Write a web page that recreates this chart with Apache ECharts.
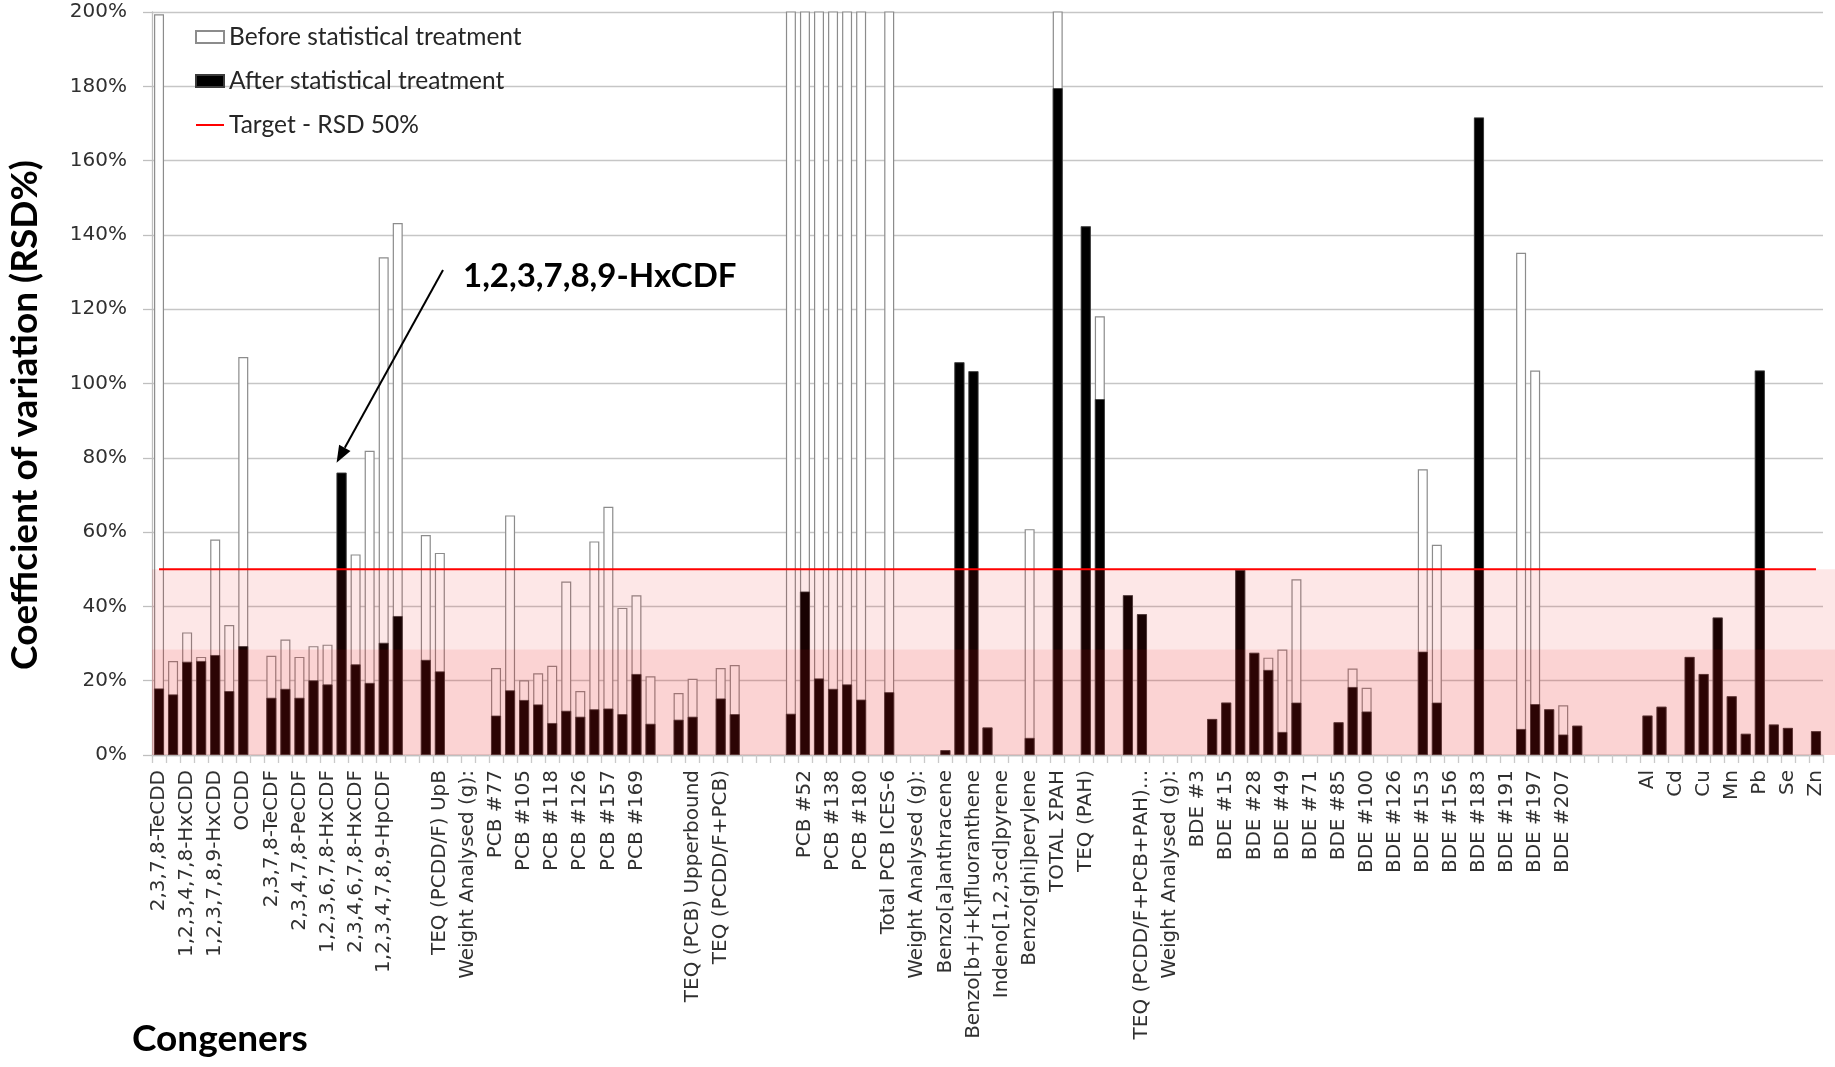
<!DOCTYPE html>
<html>
<head>
<meta charset="utf-8">
<title>Coefficient of variation before and after statistical treatment</title>
<script src="https://cdn.jsdelivr.net/npm/echarts@6/dist/echarts.min.js"></script>
<style>
  html, body { margin: 0; padding: 0; background: #ffffff; }
  #chart { width: 1835px; height: 1067px; }
</style>
</head>
<body>
<div id="chart"></div>
<script>
// Analytes in plotting order; empty strings are spacer slots between groups.
const congeners = [
  '2,3,7,8-TeCDD', '1,2,3,7,8-PeCDD', '1,2,3,4,7,8-HxCDD', '1,2,3,6,7,8-HxCDD',
  '1,2,3,7,8,9-HxCDD', '1,2,3,4,6,7,8-HpCDD', 'OCDD', '',
  '2,3,7,8-TeCDF', '1,2,3,7,8-PeCDF', '2,3,4,7,8-PeCDF', '1,2,3,4,7,8-HxCDF',
  '1,2,3,6,7,8-HxCDF', '1,2,3,7,8,9-HxCDF', '2,3,4,6,7,8-HxCDF', '1,2,3,4,6,7,8-HpCDF',
  '1,2,3,4,7,8,9-HpCDF', 'OCDF', '', 'TEQ (PCDD/F) LoB',
  'TEQ (PCDD/F) UpB', '', 'Weight Analysed (g):', '',
  'PCB #77', 'PCB #81', 'PCB #105', 'PCB #114',
  'PCB #118', 'PCB #123', 'PCB #126', 'PCB #156',
  'PCB #157', 'PCB #167', 'PCB #169', 'PCB #189',
  '', 'TEQ (PCB) Lowerbound', 'TEQ (PCB) Upperbound', '',
  'TEQ (PCDD/F+PCB)', 'TEQ (PCDD/F+PCB) UpB', '', '',
  '', 'PCB #28', 'PCB #52', 'PCB #101',
  'PCB #138', 'PCB #153', 'PCB #180', '',
  'Total PCB ICES-6', '', 'Weight Analysed (g):', '',
  'Benzo[a]anthracene', 'Chrysene', 'Benzo[b+j+k]fluoranthene', 'Benzo[a]pyrene',
  'Indeno[1,2,3cd]pyrene', 'Dibenz[a,h]anthracene', 'Benzo[ghi]perylene', '',
  'TOTAL ΣPAH', '', 'TEQ (PAH)', 'TEQ (PAH) UpB',
  '', 'TEQ (PCDD/F+PCB+PAH) LoB', 'TEQ (PCDD/F+PCB+PAH)...', '',
  'Weight Analysed (g):', '', 'BDE #3', 'BDE #7',
  'BDE #15', 'BDE #17', 'BDE #28', 'BDE #47',
  'BDE #49', 'BDE #66', 'BDE #71', 'BDE #77',
  'BDE #85', 'BDE #99', 'BDE #100', 'BDE #119',
  'BDE #126', 'BDE #138', 'BDE #153', 'BDE #154',
  'BDE #156', 'BDE #175', 'BDE #183', 'BDE #184',
  'BDE #191', 'BDE #196', 'BDE #197', 'BDE #206',
  'BDE #207', 'BDE #209', '', '',
  '', '', 'Al', 'As',
  'Cd', 'Cr', 'Cu', 'Hg',
  'Mn', 'Ni', 'Pb', 'Sb',
  'Se', 'Sn', 'Zn'
];

// RSD (%) before statistical treatment (values above 200 run off the axis).
const beforeRSD = [
  199.4, 25.3, 33.0, 26.4, 58.0, 35.0, 107.1, null,
  26.7, 31.1, 26.4, 29.3, 29.7, 76.0, 54.0, 81.9,
  134.0, 143.2, null, 59.2, 54.4, null, null, null,
  23.4, 64.5, 20.1, 22.0, 24.0, 46.7, 17.2, 57.5,
  66.8, 39.6, 43.0, 21.2, null, 16.7, 20.5, null,
  23.4, 24.2, null, null, null, 260, 260, 260,
  260, 260, 260, null, 260, null, null, null,
  1.3, 105.7, 103.3, 7.4, null, null, 60.8, null,
  240, null, 142.3, 118.1, null, 43.0, 37.9, null,
  null, null, null, 9.7, 14.1, 49.8, 27.5, 26.2,
  28.4, 47.3, null, null, 8.8, 23.3, 18.1, null,
  null, null, 76.9, 56.6, null, null, 171.6, null,
  null, 135.2, 103.5, 12.3, 13.4, 7.9, null, null,
  null, null, 10.6, 13.0, null, 26.4, 21.8, 37.0,
  15.8, 5.7, 103.5, 8.2, 7.3, null, 6.4
];

// RSD (%) after statistical treatment.
const afterRSD = [
  17.9, 16.3, 25.1, 25.3, 26.9, 17.2, 29.3, null,
  15.4, 17.8, 15.4, 20.1, 19.0, 76.0, 24.4, 19.4,
  30.2, 37.4, null, 25.6, 22.5, null, null, null,
  10.6, 17.4, 14.8, 13.6, 8.6, 11.9, 10.3, 12.3,
  12.5, 11.0, 21.8, 8.4, null, 9.5, 10.3, null,
  15.2, 11.0, null, null, null, 11.1, 44.0, 20.6,
  17.8, 19.0, 14.9, null, 16.9, null, null, null,
  1.3, 105.7, 103.3, 7.4, null, null, 4.6, null,
  179.5, null, 142.3, 95.8, null, 43.0, 37.9, null,
  null, null, null, 9.7, 14.1, 49.8, 27.5, 22.9,
  6.2, 14.1, null, null, 8.8, 18.3, 11.7, null,
  null, null, 27.8, 14.1, null, null, 171.6, null,
  null, 7.0, 13.7, 12.3, 5.5, 7.9, null, null,
  null, null, 10.6, 13.0, null, 26.4, 21.8, 37.0,
  15.8, 5.7, 103.5, 8.2, 7.3, null, 6.4
];

// Target RSD and the shaded acceptance bands (in % RSD).
const targetRSD = 50;
const bandEdges = [0, 28.4, 50];
const yAxisMin = 0;
const yAxisMax = 200;
const yAxisStep = 20;
const annotatedCongener = '1,2,3,7,8,9-HxCDF';

const legendNames = ['Before statistical treatment', 'After statistical treatment', 'Target - RSD 50%'];

const chart = echarts.init(document.getElementById('chart'), null, { renderer: 'canvas' });

const option = {
  animation: false,
  backgroundColor: '#ffffff',
  grid: { left: 152, right: 12, top: 12, bottom: 312, containLabel: false },
  legend: {
    orient: 'vertical',
    left: 190,
    top: 19,
    itemWidth: 28,
    itemHeight: 12,
    itemGap: 18,
    selectedMode: false,
    textStyle: { fontFamily: 'Lato', fontSize: 24.5, color: '#262626', lineHeight: 26 },
    data: [
      { name: legendNames[0], icon: 'rect' },
      { name: legendNames[1], icon: 'rect' },
      { name: legendNames[2], itemStyle: { opacity: 0 } }
    ]
  },
  xAxis: {
    type: 'category',
    data: congeners,
    boundaryGap: true,
    axisLine: { lineStyle: { color: '#bfbfbf', width: 1.3 } },
    axisTick: { show: true, interval: 0, length: 8, lineStyle: { color: '#cacaca', width: 1.3 } },
    axisLabel: {
      interval: 1,
      rotate: 90,
      margin: 15,
      fontFamily: 'DejaVu Sans',
      fontSize: 20,
      color: '#303030'
    },
    splitLine: { show: false }
  },
  yAxis: {
    type: 'value',
    min: yAxisMin,
    max: yAxisMax,
    interval: yAxisStep,
    axisLine: { show: true, lineStyle: { color: '#bfbfbf', width: 1.3 } },
    axisTick: { show: true, length: 9, lineStyle: { color: '#bfbfbf', width: 1.3 } },
    axisLabel: {
      formatter: '{value}%',
      margin: 25,
      fontFamily: 'DejaVu Sans',
      fontSize: 20,
      color: '#303030'
    },
    splitLine: { lineStyle: { color: '#c6c6c6', width: 1.3 } }
  },
  series: [
    {
      name: legendNames[0],
      type: 'bar',
      data: beforeRSD,
      barWidth: 10,
      barGap: '-100%',
      itemStyle: { color: '#ffffff', borderColor: '#8c8c8c', borderWidth: 1.2 },
      z: 2
    },
    {
      name: legendNames[1],
      type: 'bar',
      data: afterRSD,
      barWidth: 10,
      barGap: '-100%',
      itemStyle: { color: '#000000', borderColor: '#3c3c3c', borderWidth: 0.8 },
      z: 3
    },
    {
      name: legendNames[2],
      type: 'line',
      data: [[0, targetRSD], [congeners.length - 1, targetRSD]],
      symbol: 'none',
      lineStyle: { color: '#ff0000', width: 2.2 },
      itemStyle: { color: '#ff0000' },
      z: 20
    }
  ]
};

chart.setOption(option);

// Overlays positioned through the axes: shaded bands, annotation arrow and titles.
function drawOverlays() {
  const yPx = v => chart.convertToPixel({ yAxisIndex: 0 }, v);
  const width = chart.getWidth();
  const plotLeft = option.grid.left;
  const bandFills = ['rgba(236, 22, 22, 0.19)', 'rgba(236, 22, 22, 0.10)'];

  const elements = [];
  for (let i = 0; i < bandEdges.length - 1; i++) {
    const yTop = yPx(bandEdges[i + 1]);
    const yBottom = yPx(bandEdges[i]);
    elements.push({
      type: 'rect',
      z: 10,
      silent: true,
      shape: { x: plotLeft, y: yTop, width: width - plotLeft, height: yBottom - yTop },
      style: { fill: bandFills[i] }
    });
  }

  // Arrow pointing at the highlighted congener.
  const idx = congeners.indexOf(annotatedCongener);
  const barTop = chart.convertToPixel({ seriesIndex: 1 }, [idx, afterRSD[idx]]);
  const tip = [barTop[0] - 5, barTop[1] - 10];
  const tail = [443, 270];
  const dx = tip[0] - tail[0];
  const dy = tip[1] - tail[1];
  const len = Math.sqrt(dx * dx + dy * dy);
  const ux = dx / len, uy = dy / len;
  const headLen = 17, headHalf = 6.5;
  const base = [tip[0] - ux * headLen, tip[1] - uy * headLen];
  elements.push({
    type: 'line',
    z: 30,
    silent: true,
    shape: { x1: tail[0], y1: tail[1], x2: base[0], y2: base[1] },
    style: { stroke: '#000000', lineWidth: 2 }
  });
  elements.push({
    type: 'polygon',
    z: 30,
    silent: true,
    shape: {
      points: [
        tip,
        [base[0] - uy * headHalf, base[1] + ux * headHalf],
        [base[0] + uy * headHalf, base[1] - ux * headHalf]
      ]
    },
    style: { fill: '#000000' }
  });
  elements.push({
    type: 'text',
    z: 30,
    silent: true,
    x: 463,
    y: 276,
    style: {
      text: annotatedCongener,
      fontFamily: 'Lato',
      fontWeight: 'bold',
      fontSize: 33,
      fill: '#000000',
      align: 'left',
      verticalAlign: 'middle'
    }
  });

  // Axis titles.
  elements.push({
    type: 'text',
    z: 30,
    silent: true,
    x: 25,
    y: 415,
    rotation: Math.PI / 2,
    style: {
      text: 'Coefficient of variation (RSD%)',
      fontFamily: 'Lato',
      fontWeight: 'bold',
      fontSize: 37,
      fill: '#000000',
      align: 'center',
      verticalAlign: 'middle'
    }
  });
  elements.push({
    type: 'text',
    z: 30,
    silent: true,
    x: 132,
    y: 1039,
    style: {
      text: 'Congeners',
      fontFamily: 'Lato',
      fontWeight: 'bold',
      fontSize: 37,
      fill: '#000000',
      align: 'left',
      verticalAlign: 'middle'
    }
  });

  chart.setOption({ graphic: { elements: elements } });
}

drawOverlays();
</script>
</body>
</html>
